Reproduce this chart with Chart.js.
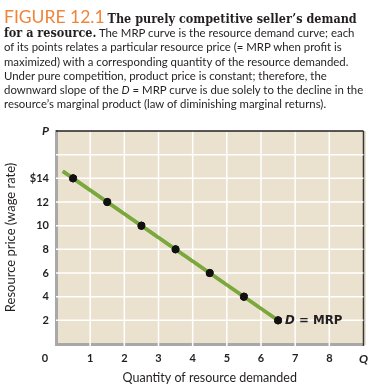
<!DOCTYPE html>
<html>
<head>
<meta charset="utf-8">
<script src="https://cdn.jsdelivr.net/npm/chart.js@4"></script>
<style>
  html, body { margin: 0; padding: 0; background: #fff; }
  #wrap { position: relative; width: 376px; height: 389px; }
  #plotBg { position: absolute; left: 56px; top: 131px; width: 310px; height: 214px; background: #ebe1cf; }
  #chart { position: absolute; left: 0; top: 0; }
  #caption {
    position: absolute; left: 4px; top: 8px; width: 372px;
    font-family: Lato, sans-serif; font-size: 11.4px; line-height: 14.2px;
    color: #231f20; white-space: nowrap;
  }
  #caption .fig { color: #f0843a; font-size: 17.5px; line-height: 17px; }
  #caption .head { font-family: "DejaVu Serif Condensed", "DejaVu Serif", serif; font-stretch: condensed; font-weight: bold; font-size: 12.5px; }
</style>
</head>
<body>
<div id="wrap">
  <div id="plotBg"></div>
  <canvas id="chart" width="376" height="389"></canvas>
  <div id="caption">
    <span class="fig">FIGURE 12.1</span> <span class="head">The purely competitive seller’s demand</span><br>
    <span class="head">for a resource.</span> The MRP curve is the resource demand curve; each<br>
    of its points relates a particular resource price (= MRP when profit is<br>
    maximized) with a corresponding quantity of the resource demanded.<br>
    Under pure competition, product price is constant; therefore, the<br>
    downward slope of the <i>D</i> = MRP curve is due solely to the decline in the<br>
    resource’s marginal product (law of diminishing marginal returns).
  </div>
</div>
<script>
// points on the MRP curve
var quantities = [0.5, 1.5, 2.5, 3.5, 4.5, 5.5, 6.5];
var prices = [14, 12, 10, 8, 6, 4, 2];
// the curve runs a little past the first point
var curveQ = [0.2, 6.5];
var curveP = [14.6, 2];

var xTickLabels = ['', '1', '2', '3', '4', '5', '6', '7', '8', 'Q'];
var yTickLabels = ['', '2', '4', '6', '8', '10', '12', '$14', '', 'P'];

var ink = '#231f20';
var tickFont = { family: 'Lato', size: 11, weight: 'bold' };

// white grid, dark frame on top and right; the curve and dots are put back on top
var gridLines = {
    id: 'gridLines',
    afterDatasetsDraw: function (chart) {
        var ctx = chart.ctx, a = chart.chartArea, x = chart.scales.x, y = chart.scales.y;
        ctx.save();
        ctx.setLineDash([]);
        ctx.lineWidth = 1.5;
        x.ticks.forEach(function (t) {
            if (t.value === 0) return;
            var px = x.getPixelForValue(t.value);
            ctx.strokeStyle = t.value === x.max ? '#3a3632' : '#ffffff';
            ctx.beginPath();
            ctx.moveTo(px, a.top);
            ctx.lineTo(px, a.bottom + 2);
            ctx.stroke();
        });
        y.ticks.forEach(function (t) {
            if (t.value === 0) return;
            var py = y.getPixelForValue(t.value);
            ctx.strokeStyle = t.value === y.max ? ink : '#ffffff';
            ctx.beginPath();
            ctx.moveTo(a.left, py);
            ctx.lineTo(a.right, py);
            ctx.stroke();
        });
        ctx.restore();
        for (var i = 0; i < chart.data.datasets.length; i++) {
            chart.getDatasetMeta(i).controller.draw();
        }
    }
};

var labels = {
    id: 'curveLabels',
    afterDraw: function (chart) {
        var ctx = chart.ctx, x = chart.scales.x, y = chart.scales.y;
        ctx.save();
        ctx.fillStyle = ink;
        ctx.textBaseline = 'middle';
        // origin label sits left of the corner
        ctx.font = 'bold 11px Lato';
        ctx.textAlign = 'center';
        ctx.fillText('0', x.left - 11, x.bottom - 31);
        // curve label next to the last point
        var n = quantities.length - 1;
        var px = x.getPixelForValue(quantities[n]) + 7;
        var py = y.getPixelForValue(prices[n]) + 1;
        ctx.textAlign = 'left';
        ctx.font = 'italic bold 11.8px "DejaVu Sans"';
        ctx.fillText('D', px, py);
        var w = ctx.measureText('D').width;
        ctx.font = 'bold 11.8px "DejaVu Sans"';
        ctx.fillText(' = MRP', px + w, py);
        ctx.restore();
    }
};

new Chart(document.getElementById('chart'), {
    type: 'scatter',
    data: {
        datasets: [{
            type: 'line',
            data: curveQ.map(function (q, i) { return { x: q, y: curveP[i] }; }),
            borderColor: '#7aa83c',
            borderWidth: 3.5,
            pointRadius: 0,
            fill: false
        }, {
            data: quantities.map(function (q, i) { return { x: q, y: prices[i] }; }),
            backgroundColor: '#111',
            borderColor: '#111',
            pointRadius: 3.6,
            pointHoverRadius: 3.6
        }]
    },
    options: {
        responsive: false,
        animation: false,
        events: [],
        layout: { padding: { top: 131, right: 10, left: 0, bottom: 0 } },
        plugins: { legend: { display: false }, tooltip: { enabled: false } },
        scales: {
            x: {
                type: 'linear', min: 0, max: 9,
                afterFit: function (s) { s.height = 45; },
                grid: { display: false, drawTicks: false },
                border: { color: '#a8a8a8', width: 3 },
                ticks: {
                    stepSize: 1, autoSkip: false, maxRotation: 0, padding: 8, color: ink,
                    font: function (c) {
                        return c.tick && c.tick.value === 9
                            ? { family: 'Lato', size: 12, weight: 'bold', style: 'italic' } : tickFont;
                    },
                    callback: function (v) { return xTickLabels[v]; }
                },
                title: {
                    display: true, text: 'Quantity of resource demanded', color: ink,
                    font: { family: 'Lato', size: 12.5 }, padding: { top: 0, bottom: 4 }
                }
            },
            y: {
                type: 'linear', min: 0, max: 18,
                afterFit: function (s) { s.width = 56; },
                grid: { display: false, drawTicks: false },
                border: { color: '#a8a8a8', width: 3 },
                ticks: {
                    stepSize: 2, autoSkip: false, padding: 7, color: ink,
                    font: function (c) {
                        return c.tick && c.tick.value === 18
                            ? { family: 'Lato', size: 12, weight: 'bold', style: 'italic' } : tickFont;
                    },
                    callback: function (v) { return yTickLabels[v / 2]; }
                },
                title: {
                    display: true, text: 'Resource price (wage rate)', color: ink,
                    font: { family: 'Lato', size: 13 }, padding: { top: 3, bottom: 0 }
                }
            }
        }
    },
    plugins: [gridLines, labels]
});
</script>
</body>
</html>
